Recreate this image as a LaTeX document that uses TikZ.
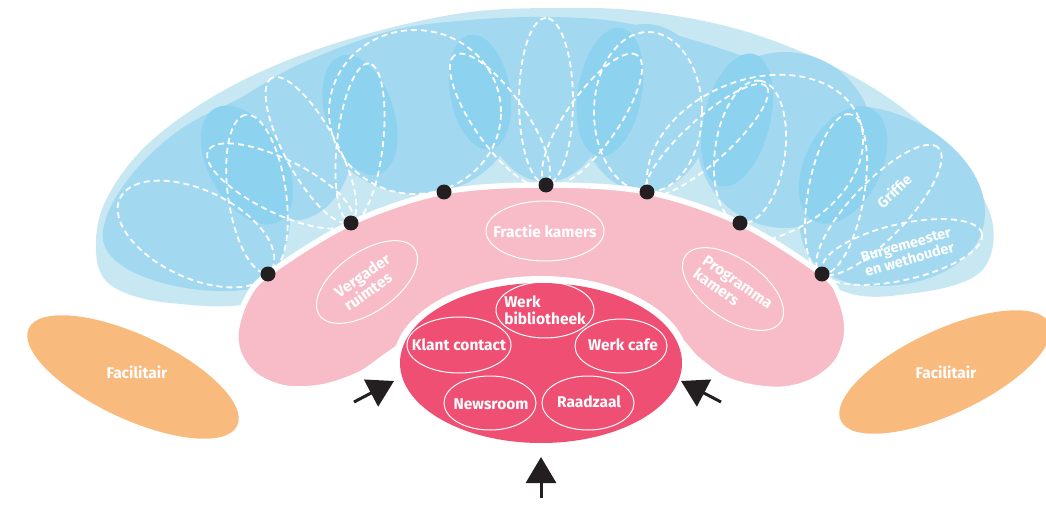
\documentclass[tikz,border=0pt]{standalone}
\usepackage{fontspec}
\setmainfont{Fira Sans}
\usetikzlibrary{shapes.geometric,arrows.meta}
\definecolor{lightb}{HTML}{C7E8F3}
\definecolor{midb}{HTML}{A2D9F1}
\definecolor{darkb}{HTML}{8DD2EF}
\definecolor{pinkc}{HTML}{F7BCC7}
\definecolor{redc}{HTML}{EF4F72}
\definecolor{orangec}{HTML}{F9BA7E}
\definecolor{dotc}{HTML}{231F20}
\begin{document}
\begin{tikzpicture}[x=1pt,y=-1pt,
  petal/.style={ellipse, draw=white, line width=1.8pt, dash pattern=on 6pt off 4pt, inner sep=0pt},
  roomline/.style={draw=white, line width=1pt},
  rt/.style={text=white, font=\bfseries\fontsize{15.5}{16.5}\selectfont, align=left, inner sep=0pt},
  st/.style={text=white, font=\bfseries\fontsize{14.5}{15}\selectfont, align=left, inner sep=0pt},
  dot/.style={circle, fill=dotc, inner sep=0pt, minimum size=15pt},
  arr/.style={-{Triangle[length=26pt,width=30pt]}, line width=3pt, draw=dotc}]
\useasboundingbox (0,0) rectangle (1046,505);
% outer light band
\fill[lightb] plot[smooth cycle, tension=0.6] coordinates {(262,300) (170,303) (112,286) (96,252) (106,200) (150,142) (230,87) (330,45) (450,15) (546,8) (650,12) (760,36) (870,86) (950,150) (988,208) (992,250) (972,278) (915,293) (845,292) (760,240) (546,215) (330,240)};
% medium band
\fill[midb] plot[smooth cycle, tension=0.6] coordinates {(112,236) (128,182) (178,132) (240,98) (300,64) (390,31) (470,20) (546,17) (620,22) (700,42) (780,70) (860,104) (935,140) (970,180) (940,200) (860,190) (780,165) (700,145) (620,135) (546,132) (470,135) (390,145) (300,170) (210,205) (150,240)};
\fill[midb] (103,240) .. controls (98,200) and (165,128) .. (215,111) .. controls (252,98) and (287,118) .. (291,162) .. controls (296,222) and (286,282) .. (250,289) .. controls (200,298) and (108,278) .. cycle;
\fill[midb, rotate around={-20:(305,160)}] (305,160) ellipse [x radius=45, y radius=62];
\fill[midb] (418,112) ellipse [x radius=97, y radius=82];
\fill[midb] (546,100) ellipse [x radius=62, y radius=82];
\fill[midb] (645,108) ellipse [x radius=66, y radius=84];
\fill[midb] (785,140) ellipse [x radius=88, y radius=88];
\fill[midb] (800,230) .. controls (790,160) and (812,108) .. (855,106) .. controls (920,108) and (985,160) .. (985,212) .. controls (985,262) and (930,286) .. (880,286) .. controls (840,287) and (805,270) .. cycle;
% darker overlaps
\fill[darkb, rotate around={-60:(247,165)}] (247,165) ellipse [x radius=65, y radius=38];
\fill[darkb, rotate around={-72:(360,115)}] (360,115) ellipse [x radius=62, y radius=34];
\fill[darkb, rotate around={100:(480,92)}] (480,92) ellipse [x radius=58, y radius=30];
\fill[darkb, rotate around={80:(610,92)}] (610,92) ellipse [x radius=65, y radius=32];
\fill[darkb, rotate around={76:(737,120)}] (737,120) ellipse [x radius=68, y radius=33];
\fill[darkb, rotate around={63:(843,165)}] (843,165) ellipse [x radius=63, y radius=38];
% dashed petals
\node[petal, rotate=-25, minimum width=168, minimum height=88] (pL1) at (196,234) {};
\node[petal, rotate=98, minimum width=160, minimum height=58] (pL2) at (257,194) {};
\node[petal, rotate=-26, minimum width=160, minimum height=54] (pL3) at (280,186) {};
\node[petal, rotate=118.6, minimum width=164, minimum height=52] (pL4) at (311,150) {};
\node[petal, rotate=83.5, minimum width=160, minimum height=46] (pL5) at (360,143) {};
\node[petal, minimum width=172, minimum height=164] (pL6) at (415,112) {};
\node[petal, rotate=125, minimum width=158, minimum height=52] (pL7) at (500,120) {};
\node[petal, rotate=90, minimum width=166, minimum height=54] (pC) at (546,101) {};
\node[petal, rotate=55, minimum width=158, minimum height=52] (pR7) at (592,120) {};
\node[petal, minimum width=108, minimum height=160] (pR1) at (648,112) {};
\node[petal, rotate=42, minimum width=160, minimum height=44] (pE1) at (707,140) {};
\node[petal, rotate=82, minimum width=144, minimum height=70] (pE2) at (750,152) {};
\node[petal, rotate=22, minimum width=224, minimum height=160] (pA) at (755,160) {};
\node[petal, rotate=80, minimum width=162, minimum height=56] (pR4) at (836,194) {};
\node[petal, rotate=46.4, minimum width=172, minimum height=56] (pR5) at (879,210) {};
\node[petal, rotate=13, minimum width=164, minimum height=56] (pR6) at (902,252) {};
\node[st, rotate=44] (griffie) at (894,191) {Griffie};
\node[st, rotate=16] (burg) at (908,252) {Burgemeester\\en wethouder};
% pink arch
\fill[pinkc, draw=white, line width=5.5pt] plot[smooth cycle, tension=0.55] coordinates {(268,274) (351,223) (444,192) (546,185) (647,192) (740,223) (822,274) (840,298) (847,330) (838,360) (815,380) (785,389) (752,387) (723,378) (698,360) (660,330) (546,318) (430,330) (392,352) (360,374) (322,387) (285,388) (256,376) (240,356) (236,332) (246,300)};
\draw[roomline] (545,231) ellipse [x radius=59, y radius=30];
\node[rt] (fractieT) at (545,231) {Fractie kamers};
\draw[roomline, rotate around={35:(367,282)}] (367,282) ellipse [x radius=58, y radius=30];
\node[rt, rotate=35] (vergT) at (367,282) {Vergader\\ruimtes};
\draw[roomline, rotate around={-35:(733,289)}] (733,289) ellipse [x radius=58, y radius=30];
\node[rt, rotate=-35] (progT) at (733,289) {Programma\\kamers};
% core
\node[ellipse, fill=white, inner sep=0pt, minimum width=296, minimum height=174] (gap) at (541,363) {};
\node[ellipse, fill=redc, inner sep=0pt, minimum width=282, minimum height=160] (core) at (541,363) {};
\draw[roomline] (545,310) ellipse [x radius=49, y radius=28];
\node[rt] (bibT) at (545,310) {Werk\\bibliotheek};
\draw[roomline] (459,345) ellipse [x radius=52, y radius=28];
\node[rt] (klantT) at (459,345) {Klant contact};
\draw[roomline] (621,346) ellipse [x radius=46, y radius=27];
\node[rt] (cafeT) at (623,345) {Werk cafe};
\draw[roomline] (490,403) ellipse [x radius=46, y radius=27];
\node[rt] (newsT) at (491,404) {Newsroom};
\draw[roomline] (588,403) ellipse [x radius=46, y radius=27];
\node[rt] (raadT) at (589,402) {Raadzaal};
% dots
\node[dot] (d1) at (268,274) {};
\node[dot] (d2) at (351,223) {};
\node[dot] (d3) at (444,192) {};
\node[dot] (d4) at (546,185) {};
\node[dot] (d5) at (647,192) {};
\node[dot] (d6) at (740,223) {};
\node[dot] (d7) at (822,274) {};
% facilitair
\node[ellipse, fill=orangec, rotate=-25, inner sep=0pt, minimum width=230, minimum height=84] (facL) at (133,377) {};
\node[rt] (facLT) at (137,372) {Facilitair};
\node[ellipse, fill=orangec, rotate=25, inner sep=0pt, minimum width=230, minimum height=84] (facR) at (945,372) {};
\node[rt] (facRT) at (946,372) {Facilitair};
% arrows
\coordinate (aB0) at (541,498);
\coordinate (aB1) at (541,457);
\coordinate (aL0) at (354,402);
\coordinate (aL1) at (394,381);
\coordinate (aR0) at (721,402);
\coordinate (aR1) at (681,381);
\draw[arr] (aB0) -- (aB1);
\draw[arr] (aL0) -- (aL1);
\draw[arr] (aR0) -- (aR1);
\end{tikzpicture}
\end{document}
